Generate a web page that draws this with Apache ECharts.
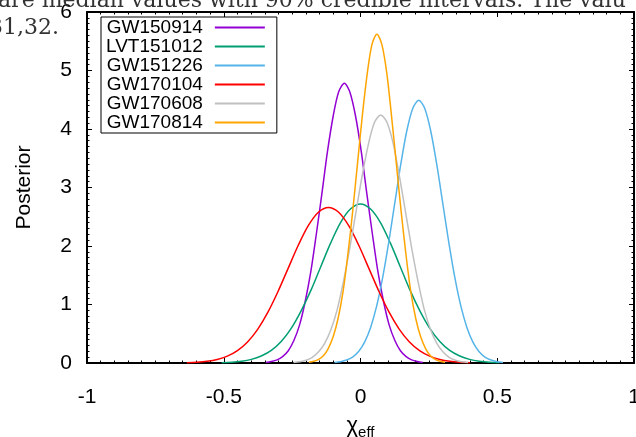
<!DOCTYPE html>
<html>
<head>
<meta charset="utf-8">
<script src="https://cdn.jsdelivr.net/npm/echarts@6/dist/echarts.min.js"></script>
<style>html,body{margin:0;padding:0;background:#fff;}#c{width:636px;height:437px;}</style>
</head>
<body>
<div id="c"></div>
<script>
const seriesNames = ['GW150914', 'LVT151012', 'GW151226', 'GW170104', 'GW170608', 'GW170814'];
const seriesColors = ['#9400d3', '#009e73', '#56b4e9', '#ff0000', '#c0c0c0', '#ffa500'];
const xTicks = [-1, -0.5, 0, 0.5, 1];
const yTicks = [0, 1, 2, 3, 4, 5, 6];

const gw150914X = [-0.346, -0.326, -0.305, -0.285, -0.264, -0.244, -0.223, -0.203, -0.182, -0.162, -0.141, -0.121, -0.100, -0.080, -0.059, -0.039, -0.018, 0.003, 0.023, 0.044, 0.064, 0.085, 0.105, 0.126, 0.146, 0.167, 0.187, 0.208, 0.228];
const gw150914Y = [0.010, 0.024, 0.053, 0.109, 0.210, 0.380, 0.647, 1.034, 1.552, 2.188, 2.899, 3.608, 4.218, 4.633, 4.78, 4.633, 4.218, 3.608, 2.899, 2.188, 1.552, 1.034, 0.647, 0.380, 0.210, 0.109, 0.053, 0.024, 0.010];

const lvt151012X = [-0.508, -0.471, -0.435, -0.399, -0.363, -0.326, -0.290, -0.254, -0.218, -0.181, -0.145, -0.109, -0.073, -0.036, 0.0, 0.036, 0.073, 0.109, 0.145, 0.181, 0.218, 0.254, 0.290, 0.326, 0.363, 0.399, 0.435, 0.471, 0.508];
const lvt151012Y = [0.006, 0.014, 0.030, 0.062, 0.120, 0.216, 0.368, 0.588, 0.883, 1.245, 1.650, 2.053, 2.400, 2.636, 2.72, 2.636, 2.400, 2.053, 1.650, 1.245, 0.883, 0.588, 0.368, 0.216, 0.120, 0.062, 0.030, 0.014, 0.006];

const gw151226X = [-0.095, -0.073, -0.051, -0.029, -0.007, 0.015, 0.037, 0.059, 0.081, 0.103, 0.125, 0.147, 0.169, 0.191, 0.213, 0.235, 0.257, 0.279, 0.301, 0.323, 0.345, 0.367, 0.389, 0.411, 0.433, 0.455, 0.477, 0.499, 0.521];
const gw151226Y = [0.010, 0.023, 0.050, 0.102, 0.197, 0.357, 0.608, 0.971, 1.458, 2.056, 2.723, 3.389, 3.962, 4.352, 4.49, 4.352, 3.962, 3.389, 2.723, 2.056, 1.458, 0.971, 0.608, 0.357, 0.197, 0.102, 0.050, 0.023, 0.010];

const gw170104X = [-0.635, -0.598, -0.561, -0.524, -0.487, -0.450, -0.413, -0.376, -0.339, -0.302, -0.265, -0.228, -0.191, -0.154, -0.117, -0.080, -0.043, -0.006, 0.031, 0.068, 0.105, 0.142, 0.179, 0.216, 0.253, 0.290, 0.327, 0.364, 0.401];
const gw170104Y = [0.006, 0.014, 0.030, 0.061, 0.117, 0.212, 0.360, 0.575, 0.864, 1.218, 1.613, 2.008, 2.348, 2.578, 2.66, 2.578, 2.348, 2.008, 1.613, 1.218, 0.864, 0.575, 0.360, 0.212, 0.117, 0.061, 0.030, 0.014, 0.006];

const gw170608X = [-0.245, -0.222, -0.199, -0.176, -0.154, -0.131, -0.108, -0.085, -0.063, -0.040, -0.017, 0.006, 0.029, 0.051, 0.074, 0.097, 0.120, 0.142, 0.165, 0.188, 0.211, 0.233, 0.256, 0.279, 0.302, 0.324, 0.347, 0.370, 0.393];
const gw170608Y = [0.009, 0.022, 0.047, 0.097, 0.186, 0.337, 0.574, 0.917, 1.377, 1.941, 2.572, 3.201, 3.742, 4.110, 4.24, 4.110, 3.742, 3.201, 2.572, 1.941, 1.377, 0.917, 0.574, 0.337, 0.186, 0.097, 0.047, 0.022, 0.009];

const gw170814X = [-0.189, -0.171, -0.153, -0.135, -0.118, -0.100, -0.082, -0.064, -0.047, -0.029, -0.011, 0.007, 0.025, 0.042, 0.060, 0.078, 0.096, 0.113, 0.131, 0.149, 0.167, 0.184, 0.202, 0.220, 0.238, 0.255, 0.273, 0.291, 0.309];
const gw170814Y = [0.012, 0.029, 0.062, 0.128, 0.247, 0.447, 0.761, 1.215, 1.825, 2.573, 3.409, 4.242, 4.960, 5.447, 5.62, 5.447, 4.960, 4.242, 3.409, 2.573, 1.825, 1.215, 0.761, 0.447, 0.247, 0.128, 0.062, 0.029, 0.012];

const allX = [gw150914X, lvt151012X, gw151226X, gw170104X, gw170608X, gw170814X];
const allY = [gw150914Y, lvt151012Y, gw151226Y, gw170104Y, gw170608Y, gw170814Y];

const captionLine1 = 'are median values with 90% credible intervals. The valu';
const captionLine2 = '31,32.';

const FONT = 'Liberation Sans, Arial, sans-serif';
const chart = echarts.init(document.getElementById('c'), null, {renderer: 'canvas'});

function xAxisCfg(pos, showLabels) {
  return {
    type: 'value', position: pos, min: xTicks[0], max: xTicks[xTicks.length - 1], interval: 0.5,
    axisLine: {show: true, onZero: false, lineStyle: {color: '#000', width: 2}},
    axisTick: {show: true, inside: true, length: 5, lineStyle: {color: '#000', width: 1}},
    minorTick: {show: true, splitNumber: 10, length: 2.5, lineStyle: {color: '#000', width: 1}},
    splitLine: {show: false},
    axisLabel: {show: showLabels, margin: 24, color: '#000', fontFamily: FONT, fontSize: 21, showMinLabel: true, showMaxLabel: true, hideOverlap: false},
  };
}
function yAxisCfg(pos, showLabels) {
  return {
    type: 'value', position: pos, min: yTicks[0], max: yTicks[yTicks.length - 1], interval: 1,
    axisLine: {show: true, onZero: false, lineStyle: {color: '#000', width: 2}},
    axisTick: {show: true, inside: true, length: 5, lineStyle: {color: '#000', width: 1}},
    minorTick: {show: true, splitNumber: 10, length: 2.5, lineStyle: {color: '#000', width: 1}},
    splitLine: {show: false},
    axisLabel: {show: showLabels, margin: 15, color: '#000', fontFamily: FONT, fontSize: 21, showMinLabel: true, showMaxLabel: true},
  };
}

const xBottom = xAxisCfg('bottom', true);
xBottom.name = '{c|χ}{s|eff}';
xBottom.nameLocation = 'middle';
xBottom.nameGap = 47;
xBottom.nameTextStyle = {
  color: '#000', fontFamily: FONT,
  rich: {
    c: {fontSize: 22, fontFamily: FONT, color: '#000', lineHeight: 24},
    s: {fontSize: 15, fontFamily: FONT, color: '#000', lineHeight: 15, padding: [12, 0, 0, 0]}
  }
};
const yLeft = yAxisCfg('left', true);
yLeft.name = 'Posterior';
yLeft.nameLocation = 'middle';
yLeft.nameGap = 52;
yLeft.nameTextStyle = {color: '#000', fontFamily: FONT, fontSize: 21};

const series = seriesNames.map((name, i) => ({
  name: name,
  type: 'line',
  xAxisIndex: 0, yAxisIndex: 0,
  data: allX[i].map((x, j) => [x, allY[i][j]]),
  smooth: 0.3,
  showSymbol: false,
  symbol: 'none',
  lineStyle: {color: seriesColors[i], width: 1.5},
  itemStyle: {color: seriesColors[i]},
  emphasis: {disabled: true}
}));

chart.setOption({
  animation: false,
  backgroundColor: '#fff',
  grid: {left: 87, right: 2, top: 12, bottom: 74, containLabel: false, outerBoundsMode: 'none'},
  xAxis: [xBottom, xAxisCfg('top', false)],
  yAxis: [yLeft, yAxisCfg('right', false)],
  legend: {
    data: seriesNames,
    orient: 'vertical',
    align: 'right',
    left: 101, top: 17,
    itemWidth: 50, itemHeight: 2, itemGap: 0,
    icon: 'rect',
    padding: [1, 12, 1, 5],
    borderColor: '#000', borderWidth: 1, backgroundColor: '#fff',
    selectedMode: false,
    textStyle: {fontFamily: FONT, fontSize: 19, color: '#000', lineHeight: 19, padding: [0, 7, 0, 0]}
  },
  graphic: [
    {type: 'text', left: -2, top: -10, silent: true, z: 100,
     style: {text: captionLine1, font: '22px "DejaVu Serif", serif', fill: '#333'}},
    {type: 'text', left: -11, top: 17, silent: true, z: 100,
     style: {text: captionLine2, font: '22px "DejaVu Serif", serif', fill: '#333'}}
  ],
  series: series
});
</script>
</body>
</html>
